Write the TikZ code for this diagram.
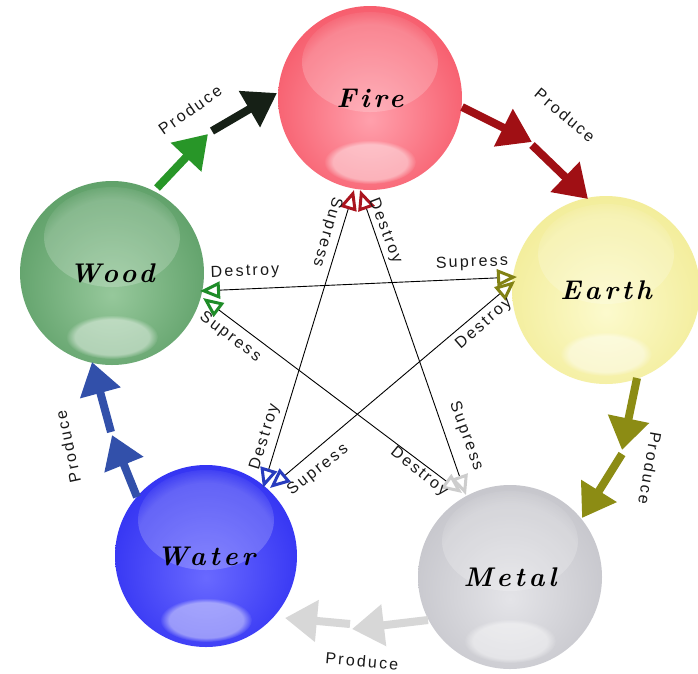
\documentclass[tikz,border=0pt]{standalone}
\usepackage{fontspec}
\usetikzlibrary{arrows.meta,fadings}
\newfontfamily\labfont[LetterSpace=14]{Liberation Sans}
\newfontfamily\elfont[LetterSpace=14]{Latin Modern Roman}

\definecolor{fireL}{RGB}{255,160,172}
\definecolor{fireM}{RGB}{246,88,104}
\definecolor{fireE}{RGB}{226,22,42}
\definecolor{earthL}{RGB}{252,250,205}
\definecolor{earthM}{RGB}{242,236,150}
\definecolor{earthE}{RGB}{212,198,48}
\definecolor{metalL}{RGB}{228,228,232}
\definecolor{metalM}{RGB}{196,196,202}
\definecolor{metalE}{RGB}{115,115,125}
\definecolor{waterL}{RGB}{105,105,255}
\definecolor{waterM}{RGB}{48,48,242}
\definecolor{waterE}{RGB}{5,5,205}
\definecolor{woodL}{RGB}{150,200,155}
\definecolor{woodM}{RGB}{92,158,102}
\definecolor{woodE}{RGB}{25,105,40}

\definecolor{arGreen}{RGB}{40,150,40}
\definecolor{arBlack}{RGB}{22,32,22}
\definecolor{arRed}{RGB}{160,15,20}
\definecolor{arOlive}{RGB}{140,140,20}
\definecolor{arGray}{RGB}{215,215,215}
\definecolor{arBlue}{RGB}{50,80,170}
\definecolor{tipRed}{RGB}{170,20,30}
\definecolor{tipOlive}{RGB}{130,130,20}
\definecolor{tipGray}{RGB}{205,205,205}
\definecolor{tipBlue}{RGB}{40,60,190}
\definecolor{tipGreen}{RGB}{30,140,40}

\pgfdeclareradialshading{fireshade}{\pgfpoint{0bp}{-6bp}}{color(0bp)=(fireL); color(30bp)=(fireM); color(45bp)=(fireE); color(50bp)=(fireE)}
\pgfdeclareradialshading{earthshade}{\pgfpoint{0bp}{-6bp}}{color(0bp)=(earthL); color(30bp)=(earthM); color(45bp)=(earthE); color(50bp)=(earthE)}
\pgfdeclareradialshading{metalshade}{\pgfpoint{0bp}{-6bp}}{color(0bp)=(metalL); color(30bp)=(metalM); color(45bp)=(metalE); color(50bp)=(metalE)}
\pgfdeclareradialshading{watershade}{\pgfpoint{0bp}{-6bp}}{color(0bp)=(waterL); color(30bp)=(waterM); color(45bp)=(waterE); color(50bp)=(waterE)}
\pgfdeclareradialshading{woodshade}{\pgfpoint{0bp}{-6bp}}{color(0bp)=(woodL); color(30bp)=(woodM); color(45bp)=(woodE); color(50bp)=(woodE)}

\tikzset{
  sphere/.style={circle, shade, minimum size=#1, inner sep=0pt,
    font=\elfont\fontsize{27}{30}\selectfont\bfseries\itshape,
    path picture={
      \fill[white,opacity=0.2,path fading=circle with fuzzy edge 20 percent] ([yshift=36pt]path picture bounding box.center) ellipse [x radius=68pt, y radius=50pt];
      \fill[white,opacity=0.45,path fading=circle with fuzzy edge 20 percent] ([yshift=-64pt]path picture bounding box.center) ellipse [x radius=46pt, y radius=22pt];
    }},
  lab/.style={font=\labfont\fontsize{16}{18}\selectfont, inner sep=0pt, text=black!90},
  prodarrow/.style={line width=8pt, -{Triangle[length=32pt,width=40pt]}},
  starline/.style={line width=0.9pt, draw=black},
}

\begin{document}
\begin{tikzpicture}[x=1pt,y=-1pt]
\useasboundingbox (0,0) rectangle (698,673);
\fill[white] (0,0) rectangle (698,673);

% spheres
\node[sphere=184, shading=fireshade]  (fire)  at (370,98)  {Fire};
\node[sphere=188, shading=earthshade] (earth) at (606,290) {Earth};
\node[sphere=184, shading=metalshade] (metal) at (510,577) {Metal};
\node[sphere=182, shading=watershade] (water) at (206,556) {Water};
\node[sphere=184, shading=woodshade]  (wood)  at (112,273) {Wood};

% star line end points
\coordinate (wA) at (200,291);
\coordinate (eA) at (517,277);
\coordinate (wB) at (203,298);
\coordinate (mB) at (462,493);
\coordinate (fA) at (354,190);
\coordinate (waA) at (263,488);
\coordinate (fB) at (360,190);
\coordinate (mA) at (466,495);
\coordinate (eB) at (515,281);
\coordinate (waB) at (270,488);

\draw[starline, {Triangle[open,length=20pt,width=17pt,line width=3pt,color=tipGreen]}-{Triangle[open,length=20pt,width=17pt,line width=3pt,color=tipOlive]}] (wA) -- (eA);
\draw[starline, {Triangle[open,length=20pt,width=17pt,line width=3pt,color=tipGreen]}-{Triangle[open,length=20pt,width=17pt,line width=3pt,color=tipGray]}] (wB) -- (mB);
\draw[starline, {Triangle[open,length=20pt,width=17pt,line width=3pt,color=tipRed]}-{Triangle[open,length=20pt,width=17pt,line width=3pt,color=tipBlue]}] (fA) -- (waA);
\draw[starline, {Triangle[open,length=20pt,width=17pt,line width=3pt,color=tipRed]}-{Triangle[open,length=20pt,width=17pt,line width=3pt,color=tipGray]}] (fB) -- (mA);
\draw[starline, {Triangle[open,length=20pt,width=17pt,line width=3pt,color=tipOlive]}-{Triangle[open,length=20pt,width=17pt,line width=3pt,color=tipBlue]}] (eB) -- (waB);

% produce arrows
\coordinate (a1) at (157,188); \coordinate (a2) at (208,134);
\coordinate (a3) at (212,131); \coordinate (a4) at (277,93);
\draw[prodarrow, draw=arGreen] (a1) -- (a2);
\draw[prodarrow, draw=arBlack] (a3) -- (a4);

\coordinate (b1) at (462,107); \coordinate (b2) at (532,142);
\coordinate (b3) at (532,145); \coordinate (b4) at (588,199);
\draw[prodarrow, draw=arRed] (b1) -- (b2);
\draw[prodarrow, draw=arRed] (b3) -- (b4);

\coordinate (c1) at (637,378); \coordinate (c2) at (622,450);
\coordinate (c3) at (622,454); \coordinate (c4) at (582,518);
\draw[prodarrow, draw=arOlive] (c1) -- (c2);
\draw[prodarrow, draw=arOlive] (c3) -- (c4);

\coordinate (d1) at (428,620); \coordinate (d2) at (352,629);
\coordinate (d3) at (350,624); \coordinate (d4) at (285,618);
\draw[prodarrow, draw=arGray] (d1) -- (d2);
\draw[prodarrow, draw=arGray] (d3) -- (d4);

\coordinate (g1) at (137,497); \coordinate (g2) at (112,435);
\coordinate (g3) at (111,432); \coordinate (g4) at (92,362);
\draw[prodarrow, draw=arBlue] (g1) -- (g2);
\draw[prodarrow, draw=arBlue] (g3) -- (g4);

% produce labels
\node[lab, rotate=35]  (p1) at (190,110) {Produce};
\node[lab, rotate=-40] (p2) at (565,115) {Produce};
\node[lab, rotate=-100] (p3) at (650,468) {Produce};
\node[lab, rotate=-5]  (p4) at (362,661) {Produce};
\node[lab, rotate=102] (p5) at (68,447) {Produce};

% star labels
\node[lab, rotate=2]    (s1) at (245,272) {Destroy};
\node[lab, rotate=-37]  (s2) at (230,337) {Supress};
\node[lab, rotate=-106] (s3) at (327,232) {Supress};
\node[lab, rotate=-69]  (s4) at (385,231) {Destroy};
\node[lab, rotate=2]    (s5) at (472,263) {Supress};
\node[lab, rotate=41]   (s6) at (484,324) {Destroy};
\node[lab, rotate=73]   (s7) at (265,437) {Destroy};
\node[lab, rotate=38]   (s8) at (318,470) {Supress};
\node[lab, rotate=-39]  (s9) at (419,472) {Destroy};
\node[lab, rotate=-70]  (s10) at (466,436) {Supress};
\end{tikzpicture}
\end{document}
